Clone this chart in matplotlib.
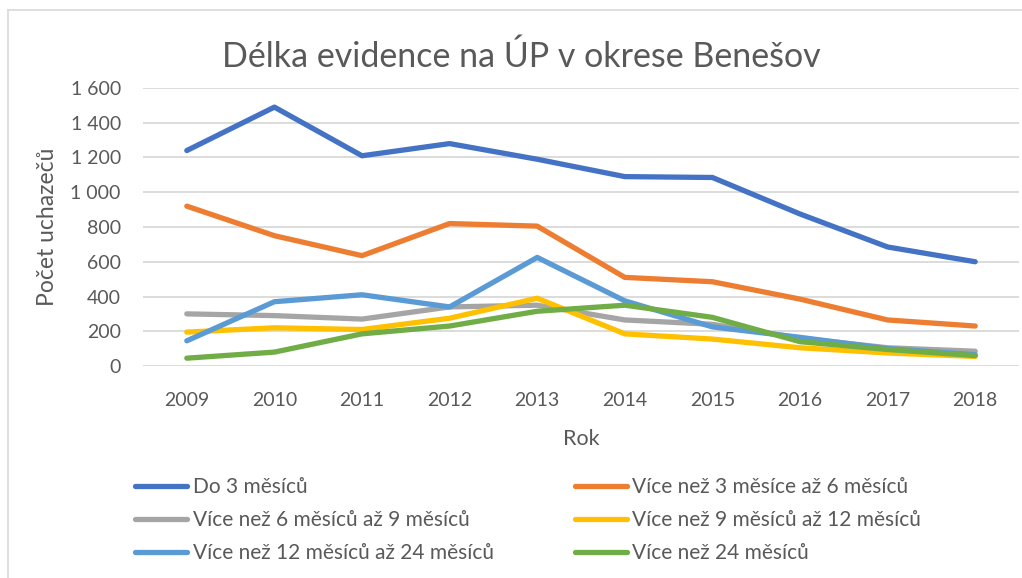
import matplotlib
matplotlib.use("Agg")
from matplotlib import pyplot as plt
from matplotlib.lines import Line2D

years = ["2009", "2010", "2011", "2012", "2013", "2014", "2015", "2016", "2017", "2018"]

do3 = [1240, 1490, 1210, 1280, 1190, 1090, 1085, 875, 685, 600]
m3_6 = [920, 750, 635, 820, 805, 510, 485, 385, 265, 230]
m6_9 = [300, 290, 270, 340, 350, 265, 240, 160, 105, 85]
m9_12 = [195, 220, 210, 275, 390, 185, 155, 105, 75, 55]
m12_24 = [145, 370, 410, 340, 625, 375, 225, 165, 100, 65]
m24 = [45, 80, 185, 230, 315, 350, 280, 140, 95, 60]

labels = ["Do 3 měsíců", "Více než 3 měsíce až 6 měsíců",
          "Více než 6 měsíců až 9 měsíců", "Více než 9 měsíců až 12 měsíců",
          "Více než 12 měsíců až 24 měsíců", "Více než 24 měsíců"]
series = [do3, m3_6, m6_9, m9_12, m12_24, m24]
colors = ["#4472C4", "#ED7D31", "#A5A5A5", "#FFC000", "#5B9BD5", "#70AD47"]

plt.rcParams['font.family'] = ['Lato', 'DejaVu Sans']
txt = "#595959"

fig = plt.figure(figsize=(10.22, 5.78), dpi=100)
ax = fig.add_axes([143/1022, 1 - 366/578, 876/1022, 278/578])

x = list(range(len(years)))
handles = []
for vals, lab, col in zip(series, labels, colors):
    h, = ax.plot(x, vals, color=col, lw=3.8, solid_capstyle='round',
                 solid_joinstyle='round', label=lab)
    handles.append(h)

ax.set_xlim(-0.5, len(years) - 0.5)
ax.set_ylim(0, 1600)
ax.set_yticks(range(0, 1601, 200))
ax.set_yticklabels([f"{v:,}".replace(",", " ") for v in range(0, 1601, 200)])
ax.set_xticks(x)
ax.set_xticklabels(years)
ax.grid(axis='y', color="#D9D9D9", lw=1.3)
ax.set_axisbelow(True)
for s in ax.spines.values():
    s.set_visible(False)
ax.tick_params(length=0, labelsize=14, colors=txt)
ax.tick_params(axis='y', pad=16)
ax.tick_params(axis='x', pad=19)

ax.set_xlabel("Rok", fontsize=15.5, color=txt, labelpad=14)
ax.set_ylabel("Počet uchazečů", fontsize=16.5, color=txt, labelpad=9)
fig.text(521/1022, 1 - 57/578, "Délka evidence na ÚP v okrese Benešov",
         ha='center', va='center', fontsize=24.5, color=txt)

order = [0, 2, 4, 1, 3, 5]
leg = fig.legend([handles[i] for i in order], [labels[i] for i in order],
                 ncol=2, loc='center left', bbox_to_anchor=(127/1022, 1 - 520/578),
                 frameon=False, fontsize=15, handlelength=2.5, handletextpad=0.25,
                 columnspacing=3.9, labelspacing=0.62, borderaxespad=0)
for t in leg.get_texts():
    t.set_color(txt)

# chart border
fig.add_artist(Line2D([8/1022, 1], [1 - 10/578, 1 - 10/578], color="#D9D9D9", lw=1.2))
fig.add_artist(Line2D([8/1022, 8/1022], [0, 1 - 10/578], color="#D9D9D9", lw=1.2))

fig.savefig("out.png", dpi=100)
